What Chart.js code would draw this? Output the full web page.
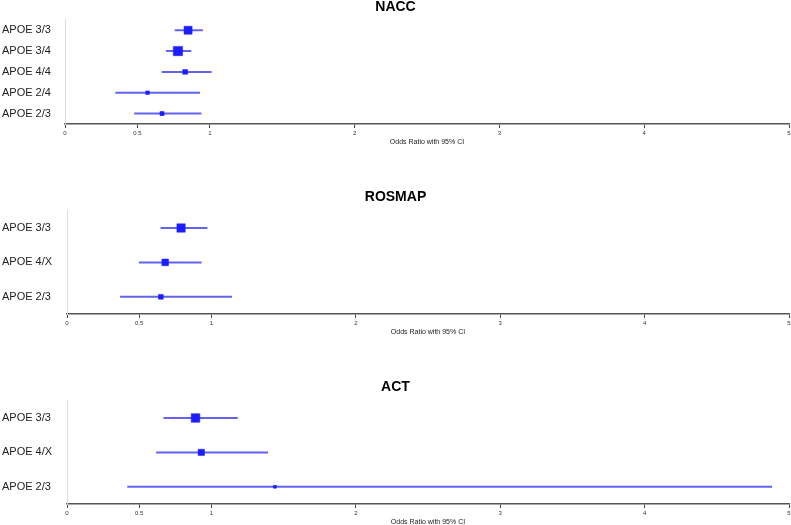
<!DOCTYPE html>
<html>
<head>
<meta charset="utf-8">
<script src="https://cdn.jsdelivr.net/npm/chart.js@4.4.1/dist/chart.umd.min.js"></script>
<style>
  html, body { margin: 0; padding: 0; background: #fff; overflow: hidden; }
  body { width: 791px; height: 525px; position: relative; }
  /* panels run a few px past the right edge so the 5 tick sits at x=789 */
  .panel { position: absolute; left: -5px; width: 802px; }
</style>
</head>
<body>
<div class="panel" style="top:-1px;height:147px"><canvas id="nacc"></canvas></div>
<div class="panel" style="top:189px;height:147px"><canvas id="rosmap"></canvas></div>
<div class="panel" style="top:379px;height:147px"><canvas id="act"></canvas></div>
<script>
// x axis ticks shared by all three panels
const xTickValues = [0, 0.5, 1, 2, 3, 4, 5]

// NACC
const naccLabels = ["APOE 3/3", "APOE 3/4", "APOE 4/4", "APOE 2/4", "APOE 2/3"]
const naccOR = [0.85, 0.78, 0.83, 0.57, 0.67]
const naccLow = [0.76, 0.70, 0.67, 0.35, 0.48]
const naccHigh = [0.95, 0.87, 1.01, 0.93, 0.94]

// ROSMAP
const rosmapLabels = ["APOE 3/3", "APOE 4/X", "APOE 2/3"]
const rosmapOR = [0.79, 0.68, 0.65]
const rosmapLow = [0.65, 0.50, 0.37]
const rosmapHigh = [0.97, 0.93, 1.14]

// ACT
const actLabels = ["APOE 3/3", "APOE 4/X", "APOE 2/3"]
const actOR = [0.89, 0.93, 1.44]
const actLow = [0.67, 0.62, 0.42]
const actHigh = [1.18, 1.39, 4.88]

// box sizes (style only)
const naccBox = [5.7, 6.6, 3.4, 2.6, 2.9]
const rosmapBox = [5.9, 4.7, 3.4]
const actBox = [6.1, 4.5, 2.1]

const lineColor = "rgba(70, 70, 235, 0.85)"
const boxColor = "rgb(28, 28, 255)"
const font = "'Liberation Sans', Arial, Helvetica, sans-serif"

function makePanel(id, title, labels, or, low, high, box, yWidth, titleGap) {
  new Chart(document.getElementById(id), {
    type: "bar",
    data: {
      labels: labels,
      datasets: [
        {
          type: "line",
          indexAxis: "y",
          data: labels.map((l, i) => ({ x: or[i], y: l })),
          showLine: false,
          pointStyle: "rect",
          pointRadius: box,
          pointBackgroundColor: boxColor,
          pointBorderColor: boxColor,
          pointBorderWidth: 0.5,
        },
        {
          data: labels.map((l, i) => [low[i], high[i]]),
          backgroundColor: lineColor,
          barThickness: 1.3,
          borderWidth: 0,
        },
      ],
    },
    options: {
      indexAxis: "y",
      responsive: true,
      maintainAspectRatio: false,
      animation: false,
      events: [],
      layout: { padding: { left: 7, right: 8, top: 0, bottom: 0 } },
      plugins: {
        legend: { display: false },
        tooltip: { enabled: false },
        title: {
          display: true,
          text: title,
          color: "#000",
          font: { family: font, size: 14, weight: "bold" },
          padding: { top: 0, bottom: titleGap },
        },
      },
      scales: {
        x: {
          type: "linear",
          min: 0,
          max: 5,
          afterBuildTicks: (axis) => {
            axis.ticks = xTickValues.map((v) => ({ value: v }))
          },
          afterFit: (axis) => {
            axis.height = 22
          },
          ticks: {
            autoSkip: false,
            maxRotation: 0,
            padding: 2,
            color: "#333",
            font: { family: font, size: 6 },
            callback: (v) => String(v),
          },
          grid: { display: true, drawOnChartArea: false, drawTicks: true, tickLength: 4, color: "#444" },
          border: { display: true, color: "#555", width: 1.5 },
          title: {
            display: true,
            text: "Odds Ratio with 95% CI",
            color: "#222",
            font: { family: font, size: 7 },
            padding: { top: 1, bottom: 0 },
          },
        },
        y: {
          type: "category",
          afterFit: (axis) => {
            axis.width = yWidth
          },
          ticks: {
            crossAlign: "far",
            color: "#222",
            font: { family: font, size: 11 },
          },
          grid: { display: false },
          border: { display: true, color: "#ddd", width: 1 },
        },
      },
    },
  })
}

makePanel("nacc", "NACC", naccLabels, naccOR, naccLow, naccHigh, naccBox, 63, 4)
makePanel("rosmap", "ROSMAP", rosmapLabels, rosmapOR, rosmapLow, rosmapHigh, rosmapBox, 65, 5)
makePanel("act", "ACT", actLabels, actOR, actLow, actHigh, actBox, 65, 5)
</script>
</body>
</html>
